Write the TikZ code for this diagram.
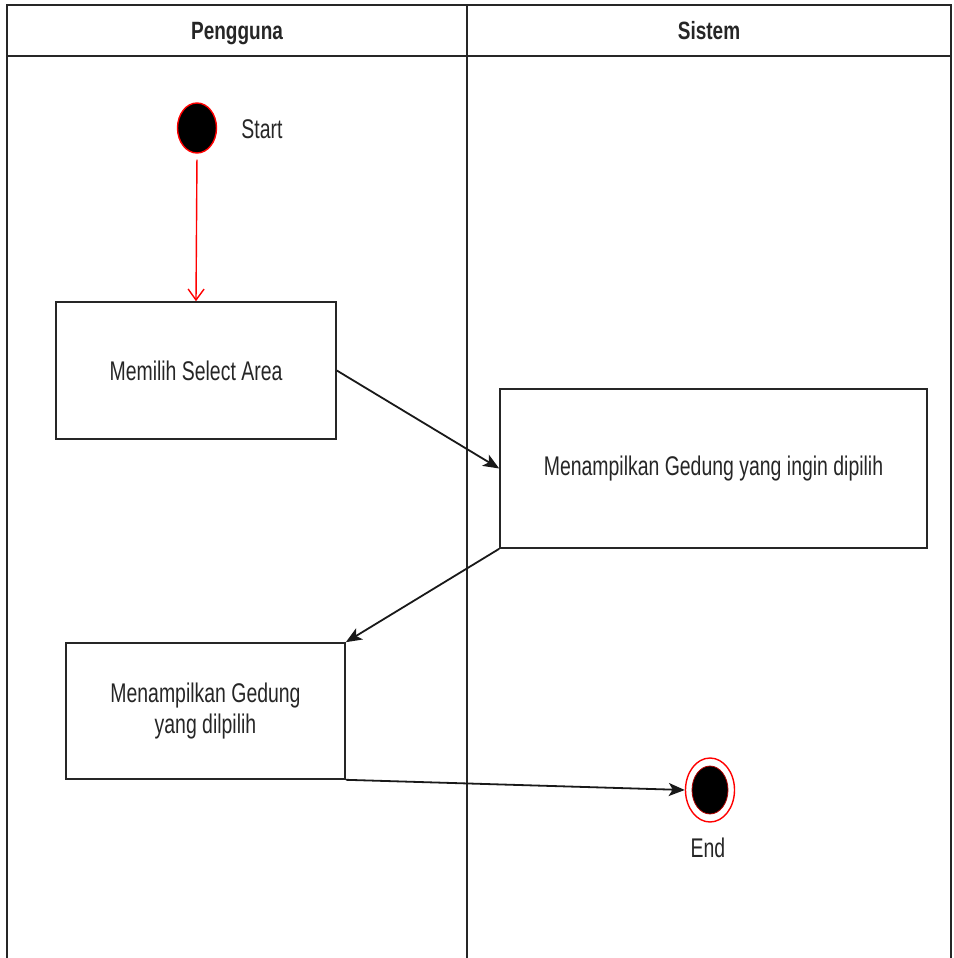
\documentclass[tikz,border=0pt]{standalone}
\usepackage{fontspec}
\setmainfont{Liberation Sans}
\newfontfamily\narrowfont[FakeStretch=0.72]{Liberation Sans}
\newfontfamily\headfont[FakeStretch=0.76]{Liberation Sans Bold}
\usetikzlibrary{arrows.meta,shapes.geometric}
\begin{document}
\begin{tikzpicture}[x=1pt,y=-1pt,
  lane/.style={draw=black!85, line width=2pt},
  lanetitle/.style={font=\headfont\fontsize{25}{30}\selectfont, text=black!85, anchor=base, inner sep=0pt},
  actbox/.style={draw=black!85, line width=1.6pt, align=center, inner sep=0pt,
    font=\narrowfont\fontsize{27}{31}\selectfont, text=black!85},
  label/.style={font=\narrowfont\fontsize{27}{31}\selectfont, text=black!85, anchor=base, inner sep=0pt},
  startdot/.style={ellipse, draw=red, fill=black, line width=1.4pt, minimum width=39pt, minimum height=50pt, inner sep=0pt},
  endring/.style={ellipse, draw=red, line width=1.4pt, minimum width=49pt, minimum height=64pt, inner sep=0pt},
  enddot/.style={ellipse, draw=red!70!black, fill=black, line width=0.8pt, minimum width=36pt, minimum height=48pt, inner sep=0pt},
  flow/.style={draw=black!90, line width=1.8pt, -{Stealth[length=16pt,width=13pt,inset=4pt]}},
  startflow/.style={draw=red, line width=1.4pt, -{Straight Barb[length=11pt,width=16pt,line width=1.4pt]}}
]
\useasboundingbox (0,0) rectangle (953,958);

% swimlanes
\draw[lane] (7,958) -- (7,5) -- (951,5) -- (951,958);
\draw[lane] (7,56) -- (951,56);
\draw[lane] (467,5) -- (467,958);
\node[lanetitle] (hp) at (237,40) {Pengguna};
\node[lanetitle] (hs) at (709,40) {Sistem};

% initial state
\node[startdot] (start) at (197,128) {};
\node[label] (startlbl) at (262,138) {Start};

% activities
\node[actbox, minimum width=280pt, minimum height=137pt] (act1) at (196,370.5) {Memilih Select Area};
\node[actbox, minimum width=427pt, minimum height=159pt] (act2) at (713.5,468.5) {Menampilkan Gedung yang ingin dipilih};
\node[actbox, minimum width=279pt, minimum height=136pt] (act3) at (205.5,711) {Menampilkan Gedung\\yang dilpilih};

% final state
\node[endring] (endo) at (710,790) {};
\node[enddot] (endi) at (710,790) {};
\node[label] (endlbl) at (708,857) {End};

% transitions
\draw[startflow, shorten <=6pt] (start.south) -- (act1.north);
\draw[flow] (act1.east) -- (act2.west);
\draw[flow] (act2.south west) -- (act3.north east);
\draw[flow] (act3.south east) -- (endo.west);
\end{tikzpicture}
\end{document}
